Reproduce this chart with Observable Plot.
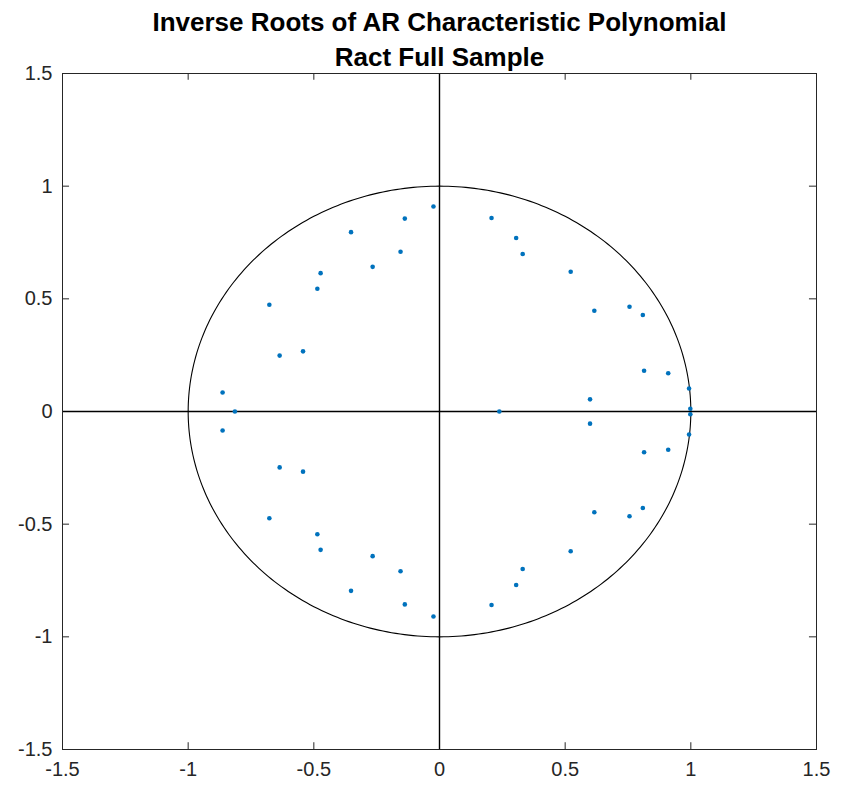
<!DOCTYPE html>
<html>
<head>
<meta charset="utf-8">
<script src="https://cdn.jsdelivr.net/npm/d3@7"></script>
<script src="https://cdn.jsdelivr.net/npm/@observablehq/plot@0.6"></script>
<style>
  html, body { margin: 0; padding: 0; background: #fff; }
  #chart svg { display: block; }
</style>
</head>
<body>
<div id="chart"></div>
<script>
const titleLines = ["Inverse Roots of AR Characteristic Polynomial", "Ract Full Sample"];
const tickValues = [-1.5, -1, -0.5, 0, 0.5, 1, 1.5];

const rootRe = [
  -0.024, -0.024, -0.138, -0.138, -0.352, -0.352, -0.155, -0.155,
  -0.266, -0.266, -0.473, -0.473, -0.486, -0.486, -0.677, -0.677,
  -0.543, -0.543, -0.636, -0.636, -0.863, -0.863, -0.814,
  0.207, 0.207, 0.305, 0.305, 0.331, 0.331, 0.522, 0.522,
  0.616, 0.616, 0.756, 0.756, 0.809, 0.809, 0.814, 0.814,
  0.910, 0.910, 0.993, 0.993, 0.599, 0.599, 0.998, 0.998, 0.238
];
const rootIm = [
  0.910, -0.910, 0.856, -0.856, 0.796, -0.796, 0.709, -0.709,
  0.642, -0.642, 0.614, -0.614, 0.545, -0.545, 0.474, -0.474,
  0.267, -0.267, 0.248, -0.248, 0.084, -0.084, 0,
  0.859, -0.859, 0.770, -0.770, 0.699, -0.699, 0.620, -0.620,
  0.447, -0.447, 0.465, -0.465, 0.428, -0.428, 0.181, -0.181,
  0.170, -0.170, 0.102, -0.102, 0.054, -0.054, 0.012, -0.012, 0
];

const roots = rootRe.map((re, i) => ({re, im: rootIm[i]}));

// unit circle reference curve
const circle = d3.range(0, 361, 1).map(a => ({x: Math.cos(a * Math.PI / 180), y: Math.sin(a * Math.PI / 180)}));

const axisColor = "#262626";
const fmt = d => String(d);

const chart = Plot.plot({
  width: 841,
  height: 792,
  marginLeft: 62,
  marginRight: 25,
  marginTop: 73,
  marginBottom: 43,
  style: {fontFamily: "'Liberation Sans', Arial, sans-serif", background: "#fff"},
  x: {domain: [-1.5, 1.5], ticks: tickValues, tickFormat: fmt},
  y: {domain: [-1.5, 1.5], ticks: tickValues, tickFormat: fmt},
  marks: [
    Plot.axisX({ticks: tickValues, tickFormat: fmt, tickSize: 0, tickPadding: 12, fontSize: 20, color: axisColor, label: null}),
    Plot.axisY({ticks: tickValues, tickFormat: fmt, tickSize: 0, tickPadding: 10, fontSize: 20, color: axisColor, label: null}),
    // inward ticks on all four sides
    Plot.ruleX(tickValues, {x: d => d, y1: -1.5, y2: -1.47, stroke: axisColor, strokeWidth: 1}),
    Plot.ruleX(tickValues, {x: d => d, y1: 1.5, y2: 1.47, stroke: axisColor, strokeWidth: 1}),
    Plot.ruleY(tickValues, {y: d => d, x1: -1.5, x2: -1.472, stroke: axisColor, strokeWidth: 1}),
    Plot.ruleY(tickValues, {y: d => d, x1: 1.5, x2: 1.472, stroke: axisColor, strokeWidth: 1}),
    Plot.ruleX([0], {stroke: "#000", strokeWidth: 1.4}),
    Plot.ruleY([0], {stroke: "#000", strokeWidth: 1.4}),
    Plot.line(circle, {x: "x", y: "y", stroke: "#000", strokeWidth: 1.1}),
    Plot.dot(roots, {x: "re", y: "im", r: 2.3, fill: "#0072BD", stroke: "none"}),
    Plot.frame({stroke: axisColor, strokeWidth: 1}),
    Plot.text([titleLines[0]], {frameAnchor: "top", lineAnchor: "middle", text: d => d, dy: -51, fontSize: 26, fontWeight: "bold", fill: "#000"}),
    Plot.text([titleLines[1]], {frameAnchor: "top", lineAnchor: "middle", text: d => d, dy: -16, fontSize: 26, fontWeight: "bold", fill: "#000"})
  ]
});

document.getElementById("chart").append(chart);
</script>
</body>
</html>
